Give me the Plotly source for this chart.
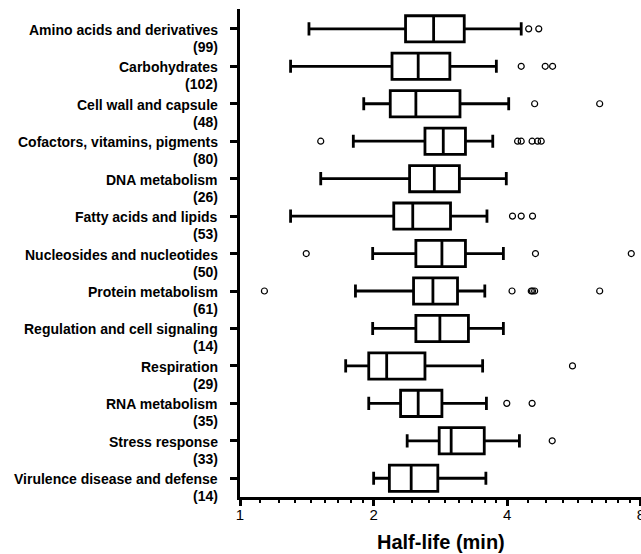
import plotly.graph_objects as go

categories = [
    "Amino acids and derivatives", "Carbohydrates", "Cell wall and capsule",
    "Cofactors, vitamins, pigments", "DNA metabolism", "Fatty acids and lipids",
    "Nucleosides and nucleotides", "Protein metabolism",
    "Regulation and cell signaling", "Respiration", "RNA metabolism",
    "Stress response", "Virulence disease and defense",
]
counts = [99, 102, 48, 80, 26, 53, 50, 61, 14, 29, 35, 33, 14]

lower_whisker = [1.43, 1.30, 1.90, 1.80, 1.52, 1.30, 1.99, 1.82, 1.99, 1.73, 1.95, 2.38, 2.00]
q1 = [2.36, 2.20, 2.18, 2.61, 2.41, 2.22, 2.49, 2.46, 2.49, 1.95, 2.30, 2.81, 2.17]
median = [2.73, 2.52, 2.49, 2.87, 2.74, 2.45, 2.85, 2.72, 2.82, 2.14, 2.52, 2.99, 2.43]
q3 = [3.20, 2.97, 3.13, 3.22, 3.12, 2.98, 3.22, 3.09, 3.27, 2.61, 2.85, 3.55, 2.79]
upper_whisker = [4.30, 3.78, 4.03, 3.71, 3.98, 3.60, 3.92, 3.56, 3.92, 3.52, 3.59, 4.26, 3.58]

outliers = [
    [4.47, 4.71],
    [4.30, 4.87, 5.06],
    [4.61, 6.46],
    [1.52, 4.22, 4.30, 4.55, 4.68, 4.77],
    [],
    [4.11, 4.30, 4.56],
    [1.41, 4.63, 7.61],
    [1.135, 4.10, 4.53, 4.56, 4.61, 6.46],
    [],
    [5.61],
    [3.99, 4.55],
    [5.05],
    [],
]

x_ticks = [1, 2, 4, 8]
x_ticktext = ["1", "2", "4", "8"]
minor_ticks = [b * (1 + k / 9) for b in (1, 2, 4) for k in range(1, 9)]

FONT = "Arial, Liberation Sans, sans-serif"
pos = list(range(len(categories)))

fig = go.Figure()
fig.add_trace(go.Box(
    y=pos, q1=q1, median=median, q3=q3,
    lowerfence=lower_whisker, upperfence=upper_whisker,
    orientation="h", boxpoints=False, width=0.7, whiskerwidth=0.5,
    fillcolor="white", line=dict(color="black", width=2.8),
    showlegend=False, hoverinfo="skip",
))

ox, oy = [], []
for i, vals in enumerate(outliers):
    for v in vals:
        ox.append(v)
        oy.append(i)
fig.add_trace(go.Scatter(
    x=ox, y=oy, mode="markers",
    marker=dict(symbol="circle-open", size=6, color="black", line=dict(width=1.2)),
    showlegend=False, hoverinfo="skip",
))

annotations = []
for i, (name, n) in enumerate(zip(categories, counts)):
    annotations.append(dict(
        text=f"<b>{name}</b>", x=0, xref="paper", xanchor="right", xshift=-20,
        y=i, yref="y", yanchor="middle", yshift=-1, showarrow=False,
        font=dict(family=FONT, size=14, color="black"),
    ))
    annotations.append(dict(
        text=f"<b>({n})</b>", x=0, xref="paper", xanchor="right", xshift=-20,
        y=i, yref="y", yanchor="middle", yshift=-18, showarrow=False,
        font=dict(family=FONT, size=14, color="black"),
    ))
annotations.append(dict(
    text="<b>Half-life (min)</b>", x=0.5, xref="paper", xanchor="center",
    y=0, yref="paper", yanchor="middle", yshift=-45, showarrow=False,
    font=dict(family=FONT, size=20, color="black"),
))

fig.update_layout(
    width=641, height=554,
    margin=dict(l=240, r=0, t=9, b=57, autoexpand=False),
    paper_bgcolor="white", plot_bgcolor="white",
    font=dict(family=FONT, color="black"),
    annotations=annotations,
    xaxis=dict(
        type="log", range=[0, 0.9033], automargin=False,
        tickmode="array", tickvals=x_ticks, ticktext=x_ticktext,
        ticks="outside", ticklen=6, tickwidth=2.5, tickcolor="black",
        ticklabelstandoff=-4, ticklabeloverflow="allow",
        showline=True, linewidth=2.8, linecolor="black",
        showgrid=False, zeroline=False,
        tickfont=dict(family=FONT, size=15, color="black"),
        minor=dict(tickmode="array", tickvals=minor_ticks, ticks="outside",
                   ticklen=3, tickwidth=2, tickcolor="black", showgrid=False),
    ),
    yaxis=dict(
        range=[12.5, -0.53], tickmode="array", tickvals=pos, automargin=False,
        showticklabels=False, ticks="outside", ticklen=7, tickwidth=2.5,
        tickcolor="black", showline=True, linewidth=2.8, linecolor="black",
        showgrid=False, zeroline=False,
    ),
)

fig.write_html("out.html")
